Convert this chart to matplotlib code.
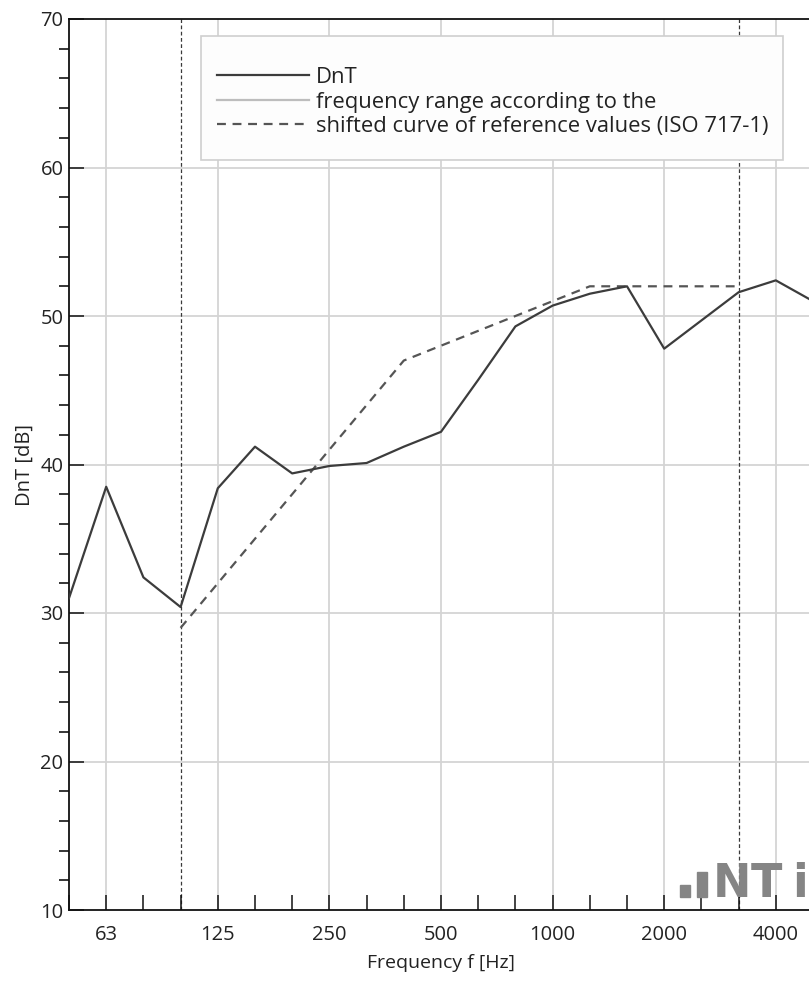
# DnT building acoustics chart (1/3 octave bands) with ISO 717-1 reference curve
import matplotlib
matplotlib.use("Agg")
import matplotlib.pyplot as plt
from matplotlib.patches import Rectangle

plt.rcParams['font.family'] = ['Open Sans', 'DejaVu Sans']

bands = ['50', '63', '80', '100', '125', '160', '200', '250', '315', '400', '500',
         '630', '800', '1000', '1250', '1600', '2000', '2500', '3150', '4000', '5000']
octave_labels = ['63', '125', '250', '500', '1000', '2000', '4000']
dnt = [31.0, 38.5, 32.4, 30.4, 38.4, 41.2, 39.4, 39.9, 40.1, 41.2, 42.2,
       45.7, 49.3, 50.7, 51.5, 52.0, 47.8, 49.7, 51.6, 52.4, 51.0]
ref_bands = ['100', '125', '160', '200', '250', '315', '400', '500',
             '630', '800', '1000', '1250', '1600', '2000', '2500', '3150']
ref_shifted = [29, 32, 35, 38, 41, 44, 47, 48, 49, 50, 51, 52, 52, 52, 52, 52]
range_bands = ['100', '3150']

x_all = list(range(len(bands)))
x_ref = [bands.index(b) for b in ref_bands]

fig = plt.figure(figsize=(8.09, 9.83), dpi=100)
ax = fig.add_axes([69 / 809, 1 - 910 / 983, (813 - 69) / 809, (910 - 19) / 983])

# grid: horizontal every 10 dB, vertical only at octave bands
for y in [20, 30, 40, 50, 60]:
    ax.axhline(y, color='#d4d4d4', lw=1.3, zorder=0)
for b in octave_labels:
    ax.axvline(bands.index(b), color='#d4d4d4', lw=1.3, zorder=0)

# frequency range markers
for b in range_bands:
    ax.axvline(bands.index(b), color='#3a3a3a', lw=0.9, dashes=(3, 2), zorder=1)

l1, = ax.plot(x_all, dnt, color='#3c3c3c', lw=1.6, zorder=3)
l3, = ax.plot(x_ref, ref_shifted, color='#555555', lw=1.6, dashes=(4, 3), zorder=2)
l2, = ax.plot([], [], color='#bdbdbd', lw=1.6)

ax.set_xlim(0, 20)
ax.set_ylim(10, 70)
ax.set_xticks(x_all)
ax.set_xticklabels([b if b in octave_labels else '' for b in bands])
ax.set_yticks([10, 20, 30, 40, 50, 60, 70])
ax.set_yticks(range(10, 71, 2), minor=True)
ax.tick_params(axis='both', direction='in', colors='#111111', labelcolor='#222222',
               labelsize=14.5, width=1.1)
ax.tick_params(axis='x', length=11, pad=11)
ax.tick_params(axis='y', which='major', length=11, pad=4)
ax.tick_params(axis='y', which='minor', length=7, width=1.1)
ax.spines['right'].set_visible(False)
for s in ['left', 'bottom', 'top']:
    ax.spines[s].set_linewidth(1.3)
    ax.spines[s].set_color('#111111')

ax.set_xlabel('Frequency f [Hz]', fontsize=14, color='#222222', labelpad=6)
ax.set_ylabel('DnT [dB]', fontsize=14.5, color='#222222', labelpad=4)

# legend with a separate frame
fig.patches.append(Rectangle((201 / 809, 1 - 160 / 983), (783 - 201) / 809, 124 / 983,
                             transform=fig.transFigure, facecolor='#fdfdfd',
                             edgecolor='#cfcfcf', lw=1.2, zorder=4))
leg = fig.legend([l1, l2, l3],
                 ['DnT', 'frequency range according to the',
                  'shifted curve of reference values (ISO 717-1)'],
                 loc='upper left', bbox_to_anchor=(217 / 809, 1 - 67 / 983),
                 frameon=False, fontsize=15.8, handlelength=4.2,
                 handletextpad=0.3, labelspacing=0.16, borderpad=0, borderaxespad=0)
leg.set_zorder(5)
for t in leg.get_texts():
    t.set_color('#222222')

# NTi logo mark
logo = '#858585'
ax.add_patch(Rectangle((0.821, 0.0146), 0.0134, 0.0135, transform=ax.transAxes,
                       color=logo, zorder=2))
ax.add_patch(Rectangle((0.844, 0.0146), 0.0134, 0.028, transform=ax.transAxes,
                       color=logo, zorder=2))
for ch, xf in zip('NTi', [0.8656, 0.916, 0.972]):
    ax.text(xf, 0.0146, ch, transform=ax.transAxes, fontsize=33, fontweight='bold',
            color=logo, family='DejaVu Sans', ha='left', va='baseline', zorder=2)

fig.savefig('out.png', dpi=100)
